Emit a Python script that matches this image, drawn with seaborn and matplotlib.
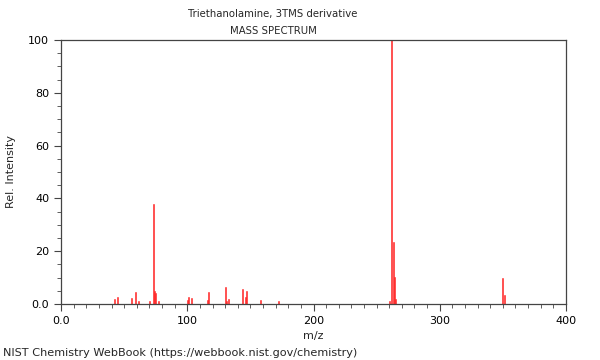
import matplotlib
matplotlib.use("Agg")
import matplotlib.pyplot as plt
from matplotlib.ticker import MultipleLocator, FixedFormatter, FixedLocator
import seaborn as sns

# peaks
mz = [42, 45, 56, 59, 61, 70, 73, 74, 75, 77, 100, 101, 103, 116, 117,
      130, 131, 133, 144, 146, 147, 158, 172, 260, 262, 263, 264, 265, 350, 351]
intensity = [1.9, 2.8, 2.4, 4.5, 1.0, 1.0, 38.0, 5.0, 4.0, 1.0, 1.5, 2.6, 2.2, 1.5, 4.7,
             6.4, 1.0, 2.0, 5.7, 2.5, 4.9, 1.5, 1.0, 1.0, 100.0, 23.6, 10.3, 1.8, 9.7, 3.3]

x_ticks = [0, 100, 200, 300, 400]
x_labels = ["0.0", "100", "200", "300", "400"]
y_ticks = [0, 20, 40, 60, 80, 100]
y_labels = ["0.0", "20", "40", "60", "80", "100"]

sns.set_style("ticks")
plt.rcParams["font.family"] = ["DejaVu Sans"]

fig = plt.figure(figsize=(6, 3.6), dpi=100)
ax = fig.add_axes([0.1017, 0.1556, 0.8416, 0.7333])

sns.barplot(x=mz, y=intensity, native_scale=True, width=0.8, errorbar=None,
            color="red", edgecolor="#ff3333", linewidth=0.4, saturation=1, ax=ax)

ax.set_xlim(0, 400)
ax.set_ylim(0, 100)
ax.xaxis.set_major_locator(FixedLocator(x_ticks))
ax.xaxis.set_major_formatter(FixedFormatter(x_labels))
ax.yaxis.set_major_locator(FixedLocator(y_ticks))
ax.yaxis.set_major_formatter(FixedFormatter(y_labels))
ax.xaxis.set_minor_locator(MultipleLocator(10))
ax.yaxis.set_minor_locator(MultipleLocator(5))
ax.tick_params(which="major", direction="out", length=5, width=0.8,
               color="#444444", labelcolor="black", labelsize=8)
ax.tick_params(which="minor", direction="out", length=3, width=0.6, color="#444444")
for s in ax.spines.values():
    s.set_visible(True)
    s.set_color("#444444")
    s.set_linewidth(0.9)

ax.set_xlabel("m/z", fontsize=8)
ax.set_ylabel("Rel. Intensity", fontsize=8, labelpad=9)
fig.text(0.455, 0.962, "Triethanolamine, 3TMS derivative", ha="center", va="center", fontsize=7.3)
fig.text(0.455, 0.915, "MASS SPECTRUM", ha="center", va="center", fontsize=7.3)
fig.text(0.005, 0.02, "NIST Chemistry WebBook (https://webbook.nist.gov/chemistry)",
         ha="left", va="center", fontsize=8.1)

fig.savefig("out.png", dpi=100)
